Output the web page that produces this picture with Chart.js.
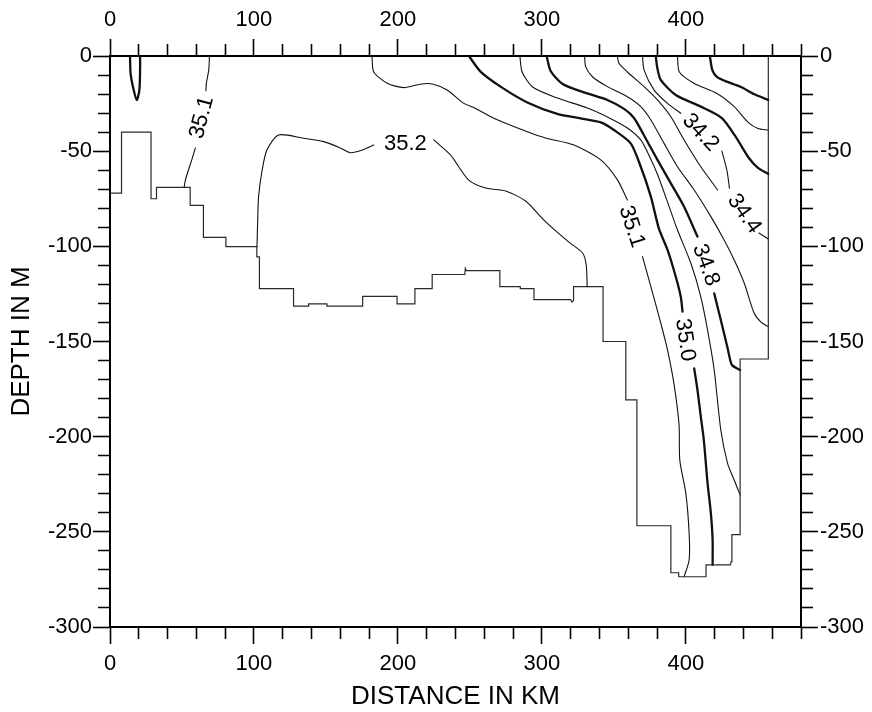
<!DOCTYPE html>
<html>
<head>
<meta charset="utf-8">
<script src="https://cdn.jsdelivr.net/npm/chart.js@4.4.1/dist/chart.umd.min.js"></script>
<style>
  html, body { margin: 0; padding: 0; background: #ffffff; }
  #wrap { width: 872px; height: 712px; }
</style>
</head>
<body>
<div id="wrap"><canvas id="chart" width="872" height="712"></canvas></div>
<script>
// ---------------- DATA (distance km, depth m) ----------------
const xLabeledTicks = [0, 100, 200, 300, 400];
const yLabeledTicks = [0, -50, -100, -150, -200, -250, -300];

// bottom topography (stepped section floor)
const topography = [
  [0,-72],[8,-72],[8,-40],[28.5,-40],[28.5,-75],[32.3,-75],[32.3,-69],[55.7,-69],[55.7,-78.5],
  [64.9,-78.5],[64.9,-95.3],[80.5,-95.3],[80.5,-100.2],[102,-100.2],[102,-105.5],[103.8,-105.5],
  [103.8,-122.2],[127.5,-122.2],[127.5,-131.4],[138,-131.4],[138,-130.2],[150.7,-130.2],[150.7,-131.4],
  [175.5,-131.4],[175.5,-126.3],[199.4,-126.3],[199.4,-130.2],[211.8,-130.2],[211.8,-122.2],
  [223.8,-122.2],[223.8,-114.8],[246.5,-114.8],[246.8,-111.6],[247.5,-112.8],[270.8,-112.8],
  [270.8,-121.2],[285,-121.2],[285,-122.2],[294.5,-122.2],[294.5,-128],[320,-128],[321,-129.3],
  [322,-128.5],[322,-121.2],[342.5,-121.2],[342.5,-150],[358.3,-150],[358.3,-180.7],[366,-180.7],
  [366,-246.8],[389.6,-246.8],[389.6,-271.5],[395,-271.5],[395,-273.6],[414,-273.6],[414,-267.4],
  [431,-267.4],[431.5,-265.7],[432,-265.7],[432,-251.5],[437.7,-251.5],[437.7,-159.2],[457.3,-159.2],[457.3,0]
];

// salinity isolines (null = break for a label)
const salLoop = [[13.9,0],[14.3,-9.1],[16.2,-17.0],[18.6,-23.1],[20.4,-17.9],[20.9,-7.4],[20.9,0]];
const sal351West = [[69.1,0],[68.6,-7.4],[67.0,-14.0],[66.6,-18.2], null,
  [59.3,-48.3],[56.8,-54.6],[54.5,-59.9],[52.4,-65.1],[51.5,-69]];
const sal352 = [[102.1,-100.2],[102.6,-86.2],[103.2,-73.9],[105.7,-59.9],[109.0,-49.4],[117.1,-41.5],
  [134.5,-43.2],[148.4,-45.0],[160.0,-48.3],[167.0,-50.8],[175.3,-49.4],[183.2,-46.8], null,
  [224.9,-44.1],[236.5,-52.0],[249.0,-65.1],[260.9,-69.4],[274.8,-70.9],[288.7,-76.2],[301.4,-86.2],
  [318.6,-97.7],[328.3,-103.5],[330.8,-109.8],[331.5,-121.2]];
const sal351East = [[182.0,0],[183.2,-8.4],[192.5,-14.3],[204.0,-16.6],[216.3,-14.7],[224.0,-14.7],
  [234.2,-17.9],[245.8,-24.9],[252.7,-27.1],[266.6,-32.7],[289.9,-39.8],[302.6,-43.1],[322.3,-46.8],
  [340.9,-54.6],[352.5,-65.1],[359.4,-75.7], null,
  [369.9,-105.4],[375.7,-121.2],[382.6,-140.4],[387.3,-154.5],[391.9,-172.9],[395.3,-193.9],
  [395.8,-212.3],[400.0,-229.8],[402.3,-250.8],[402.3,-264.8],[398.8,-273.6]];
const sal350 = [[249.3,0],[257.4,-8.2],[271.3,-16.1],[289.9,-24.4],[310.7,-30.4],[327.0,-32.8],
  [340.9,-34.9],[350.1,-38.9],[361.7,-45.9],[368.7,-58.2],[375.7,-73.9],[381.2,-90.4],[387.3,-101.9],
  [393.0,-116.0],[396.5,-126.5],[397.7,-134.3], null,
  [405.8,-164.1],[408.1,-175.5],[410.4,-189.5],[412.5,-201.8],[415.1,-224.5],[417.4,-240.3],
  [418.6,-254.3],[418.6,-267.4]];
const sal349 = [[284.7,0],[286.3,-8.4],[293.6,-16.3],[310.8,-22.1],[331.6,-27.3],[345.5,-32.0],
  [359.4,-37.8],[368.7,-44.1],[374.3,-52.0],[380.5,-62.5],[386.8,-75.7],[394.2,-91.4],[403.5,-108.9],
  [410.4,-126.5],[415.1,-144.0],[419.7,-165.0],[424.3,-196.5],[429.0,-214.0],[433.6,-222.8],[437.7,-230.6]];
const sal348 = [[303.3,0],[306.1,-7.9],[314.4,-14.7],[330.4,-19.4],[345.5,-23.1],[357.1,-27.8],
  [364.0,-32.6],[370.8,-41.5],[380.3,-54.6],[389.6,-66.9],[398.8,-79.2],[408.1,-94.9], null,
  [419.7,-124.7],[424.3,-138.7],[429.0,-153.4],[432.0,-162.3],[437.7,-165.0]];
const sal347 = [[329.7,0],[330.4,-5.6],[335.1,-10.9],[345.5,-16.1],[359.4,-21.4],[368.7,-26.6],
  [375.7,-33.6],[384.9,-45.9],[394.2,-58.2],[405.8,-70.4],[417.4,-84.4],[426.6,-96.7],[433.6,-107.2],
  [440.6,-119.4],[447.5,-135.2],[452.2,-139.8],[457.3,-142.2]];
const sal344 = [[352.5,0],[353.4,-3.7],[359.4,-8.4],[371.0,-16.1],[380.3,-23.1],[389.6,-31.9],
  [398.8,-44.1],[410.4,-58.2],[422.1,-70.4], null, [450.8,-93.0],[457.3,-96.1]];
const sal342 = [[369.9,0],[371.0,-7.4],[378.0,-17.9],[387.3,-24.9],[396.5,-30.1], null,
  [425.0,-49.9],[428.5,-59.9],[430.3,-69.4]];
const sal340 = [[379.1,0],[380.2,-6.3],[382.6,-12.6],[393.0,-20.5],[410.4,-26.6],[425.0,-32.6],
  [434.8,-42.6],[443.8,-53.6],[450.1,-58.8],[457.3,-62.0]];
const sal338 = [[394.2,0],[395.5,-8.4],[405.6,-14.3],[421.6,-19.7],[433.6,-26.6],[443.1,-34.7],
  [450.1,-38.1],[457.3,-38.9]];
const sal336 = [[416.7,0],[418.4,-7.4],[421.6,-11.0],[427.1,-13.1],[438.3,-16.3],[447.3,-20.0],[457.3,-23.1]];

// contour label anchors (km, m) and their text
const contourLabels = [
  { text: '35.1', km: 63.8,  depth: -32.3,  angle: -75 },
  { text: '35.2', km: 205.2, depth: -46.0,  angle: 0 },
  { text: '35.1', km: 362.3, depth: -89.7,  angle: 72 },
  { text: '35.0', km: 399.4, depth: -149.2, angle: 82 },
  { text: '34.8', km: 413.9, depth: -109.8, angle: 70 },
  { text: '34.2', km: 410.2, depth: -40.2,  angle: 47 },
  { text: '34.4', km: 440.6, depth: -82.9,  angle: 55 }
];

// ---------------- BUILD DATASETS ----------------
const FONT = '"Liberation Sans", Arial, Helvetica, sans-serif';
const THIN = 1.1, THICK = 2.3;
const contours = [
  { pts: salLoop, w: THICK }, { pts: sal351West, w: THIN }, { pts: sal352, w: THIN },
  { pts: sal351East, w: THIN }, { pts: sal350, w: THICK }, { pts: sal349, w: THIN },
  { pts: sal348, w: THICK }, { pts: sal347, w: THIN }, { pts: sal344, w: THIN },
  { pts: sal342, w: THIN }, { pts: sal340, w: THICK }, { pts: sal338, w: THIN },
  { pts: sal336, w: THICK }
];

function splitSegments(arr) {
  const segs = []; let cur = [];
  arr.forEach(p => {
    if (p === null) { if (cur.length) segs.push(cur); cur = []; }
    else cur.push({ x: p[0], y: p[1] });
  });
  if (cur.length) segs.push(cur);
  return segs;
}

const datasets = [{
  data: topography.map(p => ({ x: p[0], y: p[1] })),
  showLine: true, borderColor: '#2a2a2a', borderWidth: 1.2, pointRadius: 0, tension: 0, fill: false
}];
contours.forEach(c => {
  splitSegments(c.pts).forEach(seg => {
    datasets.push({
      data: seg, showLine: true, borderColor: '#111', borderWidth: c.w,
      pointRadius: 0, tension: 0.25, fill: false, borderCapStyle: 'round', borderJoinStyle: 'round'
    });
  });
});

// ---------------- AXES ----------------
const MAJOR = 17, MINOR = 11;
const isXMajor = v => xLabeledTicks.some(t => Math.abs(t - v) < 1e-6);
const isYMajor = v => yLabeledTicks.some(t => Math.abs(t - v) < 1e-6);
// dash patterns so minor ticks come out shorter (ticks drawn outer->axis for left/top, axis->outer for right/bottom)
const dashOuterFirst = [0, MAJOR - 1 - MINOR, MINOR, 200];
const dashAxisFirst = [MINOR, 200];

function xAxis(position, height, pad) {
  return {
    type: 'linear', position, min: 0, max: 480,
    afterFit: s => { s.height = height; },
    border: { display: true, color: '#000', width: 2 },
    grid: {
      drawOnChartArea: false, drawTicks: true, tickLength: MAJOR, tickColor: '#000', tickWidth: 1.6,
      tickBorderDash: c => (c.tick && isXMajor(c.tick.value)) ? [] :
        (position === 'top' ? dashOuterFirst : dashAxisFirst)
    },
    ticks: {
      stepSize: 20, autoSkip: false, maxRotation: 0, minRotation: 0, padding: pad, color: '#000',
      font: { family: FONT, size: 22 },
      callback: v => isXMajor(v) ? String(Math.round(v)) : ''
    },
    title: position === 'bottom' ? {
      display: true, text: 'DISTANCE IN KM', color: '#000',
      font: { family: FONT, size: 26 }, padding: { top: 4, bottom: 0 }
    } : { display: false }
  };
}
function yAxis(position, width, pad) {
  return {
    type: 'linear', position, min: -300, max: 0,
    afterFit: s => { s.width = width; },
    border: { display: true, color: '#000', width: 2 },
    grid: {
      drawOnChartArea: false, drawTicks: true, tickLength: MAJOR, tickColor: '#000', tickWidth: 1.6,
      tickBorderDash: c => (c.tick && isYMajor(c.tick.value)) ? [] :
        (position === 'left' ? dashOuterFirst : dashAxisFirst)
    },
    ticks: {
      stepSize: 10, autoSkip: false, padding: pad, color: '#000',
      font: { family: FONT, size: 22 },
      callback: v => isYMajor(v) ? String(Math.round(v)) : ''
    },
    title: position === 'left' ? {
      display: true, text: 'DEPTH IN M', color: '#000',
      font: { family: FONT, size: 26 }, padding: { top: 6, bottom: 0 }
    } : { display: false }
  };
}

// ---------------- LABEL PLUGIN ----------------
const labelPlugin = {
  id: 'contourLabels',
  afterDatasetsDraw(chart) {
    const { ctx, scales } = chart;
    ctx.save();
    ctx.fillStyle = '#000';
    ctx.font = '22px ' + FONT;
    ctx.textAlign = 'center';
    ctx.textBaseline = 'middle';
    contourLabels.forEach(l => {
      const px = scales.x.getPixelForValue(l.km);
      const py = scales.y.getPixelForValue(l.depth);
      ctx.save();
      ctx.translate(px, py);
      ctx.rotate(l.angle * Math.PI / 180);
      ctx.fillText(l.text, 0, 0);
      ctx.restore();
    });
    ctx.restore();
  }
};

new Chart(document.getElementById('chart'), {
  type: 'scatter',
  data: { datasets },
  options: {
    responsive: false, animation: false, devicePixelRatio: 1,
    layout: { padding: 0 },
    plugins: { legend: { display: false }, tooltip: { enabled: false } },
    scales: {
      x: xAxis('bottom', 85, 7),
      x2: xAxis('top', 56, 6),
      y: yAxis('left', 110, 1),
      y2: yAxis('right', 71, 2)
    }
  },
  plugins: [labelPlugin]
});
</script>
</body>
</html>
